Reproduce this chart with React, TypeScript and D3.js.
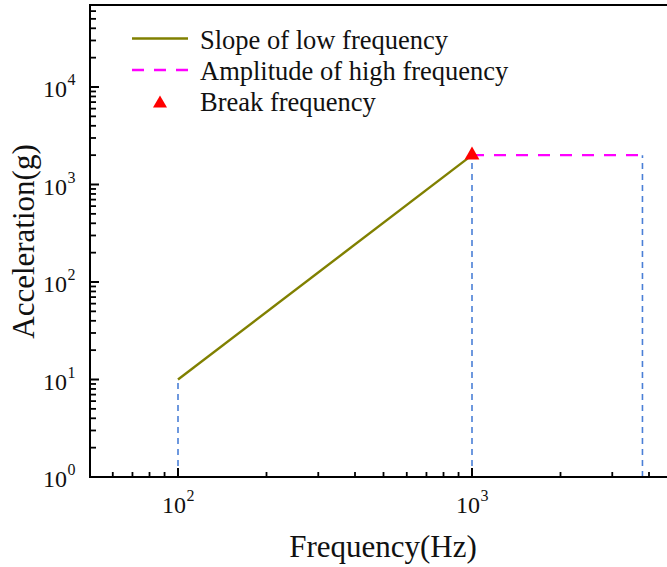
import React from "react";
import * as d3 from "d3";

const lowFreq = [100, 1000];
const lowAcc = [10, 2000];
const highFreq = [1000, 3800];
const highAcc = [2000, 2000];
const breakPoint = [{ f: 1000, a: 2000 }];
const guideFreqs = [
  { f: 100, a: 10 },
  { f: 1000, a: 2000 },
  { f: 3800, a: 2000 },
];
const xMajorTicks = [100, 1000];
const xMinorTicks = [60, 70, 80, 90, 200, 300, 400, 500, 600, 700, 800, 900, 2000, 3000, 4000];
const yMajorExp = [0, 1, 2, 3, 4];
const legendItems = ["Slope of low frequency", "Amplitude of high frequency", "Break frequency"];

const W = 667;
const H = 567;
const left = 90;
const top = 5;
const bottom = 477;

export default function App() {
  const xs = d3.scaleLog().domain([100, 1000]).range([178, 472]);
  const y = d3.scaleLog().domain([1, 10000]).range([bottom, 87]);
  const yTopVal = y.invert(top);
  const yMinor: number[] = [];
  for (let e = 0; e < 5; e++) {
    for (let m = 2; m <= 9; m++) {
      const v = m * Math.pow(10, e);
      if (v <= yTopVal) yMinor.push(v);
    }
  }

  const lowPath = d3.line()(lowFreq.map((f, i) => [xs(f), y(lowAcc[i])] as [number, number]));
  const highPath = d3.line()(highFreq.map((f, i) => [xs(f), y(highAcc[i])] as [number, number]));
  const tri = d3.symbol().type(d3.symbolTriangle).size(95)();
  const triLegend = d3.symbol().type(d3.symbolTriangle).size(85)();

  const serif = "'Liberation Serif', 'Times New Roman', serif";
  const xRight = W + 20;

  return (
    <svg
      width={W}
      height={H}
      style={{ position: "absolute", left: 0, top: 0, background: "#fff", fontFamily: serif }}
    >
      {guideFreqs.map((g, i) => (
        <line
          key={i}
          x1={xs(g.f)}
          x2={xs(g.f)}
          y1={bottom}
          y2={y(g.a)}
          stroke="#4a7fd6"
          strokeWidth={1.6}
          strokeDasharray="6,5"
        />
      ))}
      <path d={lowPath || ""} fill="none" stroke="#808000" strokeWidth={2.4} />
      <path d={highPath || ""} fill="none" stroke="#ff00ff" strokeWidth={2.4} strokeDasharray="12,10" />
      {breakPoint.map((p, i) => (
        <path key={i} d={tri || ""} transform={`translate(${xs(p.f)},${y(p.a)})`} fill="#ff0000" />
      ))}

      <line x1={left} x2={left} y1={top} y2={bottom + 1} stroke="#000" strokeWidth={2} />
      <line x1={left - 1} x2={xRight} y1={bottom} y2={bottom} stroke="#000" strokeWidth={2} />
      <line x1={left - 1} x2={xRight} y1={top} y2={top} stroke="#000" strokeWidth={2} />

      {yMajorExp.map((e) => (
        <g key={e}>
          <line x1={left} x2={left + 9} y1={y(Math.pow(10, e))} y2={y(Math.pow(10, e))} stroke="#000" strokeWidth={2} />
          <text x={67} y={y(Math.pow(10, e)) + 10} textAnchor="end" fontSize={24} fill="#111">
            10
          </text>
          <text x={67.5} y={y(Math.pow(10, e)) - 2} textAnchor="start" fontSize={16} fill="#111">
            {e}
          </text>
        </g>
      ))}
      {yMinor.map((v) => (
        <line key={v} x1={left} x2={left + 6} y1={y(v)} y2={y(v)} stroke="#000" strokeWidth={1.8} />
      ))}

      {xMajorTicks.map((v) => (
        <g key={v}>
          <line x1={xs(v)} x2={xs(v)} y1={bottom} y2={bottom - 9} stroke="#000" strokeWidth={2} />
          <text x={xs(v) - 4} y={513} textAnchor="middle" fontSize={24} fill="#111">
            10
          </text>
          <text x={xs(v) + 8.5} y={501} textAnchor="start" fontSize={16} fill="#111">
            {Math.round(Math.log10(v))}
          </text>
        </g>
      ))}
      {xMinorTicks.map((v) => (
        <line key={v} x1={xs(v)} x2={xs(v)} y1={bottom} y2={bottom - 5} stroke="#000" strokeWidth={1.8} />
      ))}

      <text x={383} y={557} textAnchor="middle" fontSize={31} fill="#111">
        Frequency(Hz)
      </text>
      <text transform={`translate(34,241.5) rotate(-90)`} textAnchor="middle" fontSize={31} fill="#111">
        Acceleration(g)
      </text>

      <g>
        <line x1={132} x2={188} y1={38.5} y2={38.5} stroke="#808000" strokeWidth={2.4} />
        <text x={200} y={49} fontSize={26.5} fill="#111">{legendItems[0]}</text>
        <line x1={132} x2={188} y1={70} y2={70} stroke="#ff00ff" strokeWidth={2.4} strokeDasharray="12,10" />
        <text x={200} y={80} fontSize={26.5} fill="#111">{legendItems[1]}</text>
        <path d={triLegend || ""} transform="translate(160,103.5)" fill="#ff0000" />
        <text x={200} y={111} fontSize={26.5} fill="#111">{legendItems[2]}</text>
      </g>
    </svg>
  );
}
